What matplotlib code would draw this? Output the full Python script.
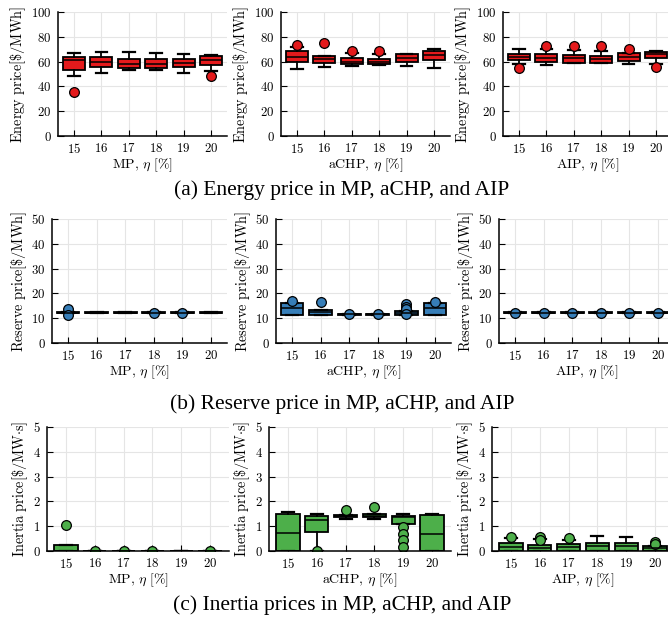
import matplotlib
matplotlib.use("Agg")
import matplotlib.pyplot as plt

plt.rcParams['mathtext.fontset'] = 'cm'

# ---------------- data ----------------
eta = [15, 16, 17, 18, 19, 20]

# Energy price [$ / MWh]
energy_mp_med = [61.0, 60.0, 58.0, 58.0, 58.5, 61.5]
energy_mp_q1 = [53.0, 55.5, 54.5, 54.5, 56.0, 57.5]
energy_mp_q3 = [64.0, 64.0, 62.5, 62.0, 62.0, 64.5]
energy_mp_lo = [48.0, 50.5, 53.0, 53.0, 51.0, 52.5]
energy_mp_hi = [67.0, 67.5, 67.5, 67.0, 66.0, 65.5]
energy_mp_fl = [[35.5], [], [], [], [], [48.5]]

energy_achp_med = [64.0, 62.0, 60.0, 60.0, 63.0, 65.0]
energy_achp_q1 = [59.7, 59.2, 57.8, 57.8, 59.5, 61.4]
energy_achp_q3 = [68.9, 64.9, 62.7, 62.4, 66.2, 68.9]
energy_achp_lo = [54.0, 56.0, 56.8, 57.3, 56.8, 54.6]
energy_achp_hi = [71.5, 64.9, 67.3, 66.5, 66.2, 70.5]
energy_achp_fl = [[73.5], [74.9], [68.9], [68.6], [], []]

energy_aip_med = [63.5, 63.2, 62.7, 62.2, 64.0, 65.9]
energy_aip_q1 = [61.0, 60.0, 59.2, 59.2, 60.5, 62.7]
energy_aip_q3 = [66.2, 66.2, 65.4, 64.9, 66.8, 68.1]
energy_aip_lo = [58.0, 57.3, 58.6, 58.6, 58.1, 57.8]
energy_aip_hi = [70.0, 70.0, 69.5, 68.9, 66.8, 68.6]
energy_aip_fl = [[54.6], [72.7], [72.7], [72.2], [70.3], [55.9]]

# Reserve price [$ / MWh]
reserve_mp_med = [12.1, 12.1, 12.1, 12.1, 12.1, 12.1]
reserve_mp_q1 = [11.9, 11.9, 11.9, 11.9, 11.9, 11.9]
reserve_mp_q3 = [12.3, 12.3, 12.3, 12.3, 12.3, 12.3]
reserve_mp_lo = [11.9, 11.9, 11.9, 11.9, 11.9, 11.9]
reserve_mp_hi = [12.3, 12.3, 12.3, 12.3, 12.3, 12.3]
reserve_mp_fl = [[13.7, 11.4], [], [], [12.2], [12.0], []]

reserve_achp_med = [14.1, 12.5, 11.5, 11.5, 12.1, 14.1]
reserve_achp_q1 = [11.4, 11.4, 11.3, 11.3, 11.2, 11.4]
reserve_achp_q3 = [16.0, 13.2, 11.7, 11.7, 12.8, 16.0]
reserve_achp_lo = [11.4, 11.4, 11.3, 11.3, 11.2, 11.4]
reserve_achp_hi = [16.0, 13.2, 11.7, 11.7, 12.8, 16.0]
reserve_achp_fl = [[16.8], [16.4], [11.6], [11.6], [15.7, 14.5, 13.7, 11.7], [16.5]]

reserve_aip_med = [12.1, 12.1, 12.1, 12.1, 12.1, 12.1]
reserve_aip_q1 = [11.9, 11.9, 11.9, 11.9, 11.9, 11.9]
reserve_aip_q3 = [12.3, 12.3, 12.3, 12.3, 12.3, 12.3]
reserve_aip_lo = [11.9, 11.9, 11.9, 11.9, 11.9, 11.9]
reserve_aip_hi = [12.3, 12.3, 12.3, 12.3, 12.3, 12.3]
reserve_aip_fl = [[12.1], [12.1], [12.1], [12.1], [12.1], [12.1]]

# Inertia price [$ / MW s]
inertia_mp_med = [0.0, 0.0, 0.0, 0.0, 0.0, 0.0]
inertia_mp_q1 = [0.0, 0.0, 0.0, 0.0, 0.0, 0.0]
inertia_mp_q3 = [0.24, 0.0, 0.0, 0.0, 0.0, 0.0]
inertia_mp_lo = [0.0, 0.0, 0.0, 0.0, 0.0, 0.0]
inertia_mp_hi = [0.24, 0.0, 0.0, 0.0, 0.0, 0.0]
inertia_mp_fl = [[1.04], [0.0], [0.0], [0.0], [], [0.0]]

inertia_achp_med = [0.71, 1.23, 1.40, 1.42, 1.36, 0.67]
inertia_achp_q1 = [0.0, 0.75, 1.36, 1.36, 1.08, 0.0]
inertia_achp_q3 = [1.50, 1.43, 1.46, 1.48, 1.43, 1.46]
inertia_achp_lo = [0.0, 0.0, 1.29, 1.28, 1.08, 0.0]
inertia_achp_hi = [1.58, 1.48, 1.46, 1.48, 1.48, 1.48]
inertia_achp_fl = [[], [0.0], [1.66], [1.78], [0.96, 0.69, 0.43, 0.18], []]

inertia_aip_med = [0.18, 0.13, 0.18, 0.20, 0.20, 0.11]
inertia_aip_q1 = [0.0, 0.0, 0.0, 0.0, 0.0, 0.0]
inertia_aip_q3 = [0.31, 0.24, 0.28, 0.34, 0.34, 0.22]
inertia_aip_lo = [0.0, 0.0, 0.0, 0.0, 0.0, 0.0]
inertia_aip_hi = [0.51, 0.47, 0.44, 0.60, 0.58, 0.22]
inertia_aip_fl = [[0.58], [0.58, 0.44], [0.54], [], [], [0.38, 0.27]]

markets = ['MP', 'aCHP', 'AIP']
row_titles = ['(a) Energy price in MP, aCHP, and AIP',
              '(b) Reserve price in MP, aCHP, and AIP',
              '(c) Inertia prices in MP, aCHP, and AIP']
row_ylabels = [r'$\mathrm{Energy\ price[\$/MWh]}$',
               r'$\mathrm{Reserve\ price[\$/MWh]}$',
               r'$\mathrm{Inertia\ price[\$/MW{\cdot}s]}$']
row_ylims = [100, 50, 5]
row_yticks = [[0, 20, 40, 60, 80, 100], [0, 10, 20, 30, 40, 50], [0, 1, 2, 3, 4, 5]]
row_colors = ['#e41a1c', '#377eb8', '#4daf4a']

data = [
    [(energy_mp_med, energy_mp_q1, energy_mp_q3, energy_mp_lo, energy_mp_hi, energy_mp_fl),
     (energy_achp_med, energy_achp_q1, energy_achp_q3, energy_achp_lo, energy_achp_hi, energy_achp_fl),
     (energy_aip_med, energy_aip_q1, energy_aip_q3, energy_aip_lo, energy_aip_hi, energy_aip_fl)],
    [(reserve_mp_med, reserve_mp_q1, reserve_mp_q3, reserve_mp_lo, reserve_mp_hi, reserve_mp_fl),
     (reserve_achp_med, reserve_achp_q1, reserve_achp_q3, reserve_achp_lo, reserve_achp_hi, reserve_achp_fl),
     (reserve_aip_med, reserve_aip_q1, reserve_aip_q3, reserve_aip_lo, reserve_aip_hi, reserve_aip_fl)],
    [(inertia_mp_med, inertia_mp_q1, inertia_mp_q3, inertia_mp_lo, inertia_mp_hi, inertia_mp_fl),
     (inertia_achp_med, inertia_achp_q1, inertia_achp_q3, inertia_achp_lo, inertia_achp_hi, inertia_achp_fl),
     (inertia_aip_med, inertia_aip_q1, inertia_aip_q3, inertia_aip_lo, inertia_aip_hi, inertia_aip_fl)],
]

# ---------------- layout (pixels) ----------------
W, H = 668, 625
fig = plt.figure(figsize=(W / 100, H / 100), dpi=100)

# per row: top px, bottom px, list of left px, px offset of first tick, tick spacing px
rows_geom = [
    (12, 136, [58, 281, 503], 16, 27.4),
    (219, 343, [52, 276, 499], 16, 28.6),
    (427, 551, [47, 269, 492], 19, 28.8),
]
caption_y = [190, 404, 605]

for r in range(3):
    top, bot, lefts, off, sp = rows_geom[r]
    width_px = off * 2 + sp * 5
    x0 = 15 - off / sp
    x1 = 20 + off / sp
    for c in range(3):
        ax = fig.add_axes([lefts[c] / W, (H - bot) / H, width_px / W, (bot - top) / H])
        med, q1, q3, lo, hi, fl = data[r][c]
        stats = []
        for i in range(len(eta)):
            stats.append(dict(med=med[i], q1=q1[i], q3=q3[i],
                              whislo=lo[i], whishi=hi[i], fliers=fl[i]))
        col = row_colors[r]
        ax.bxp(stats, positions=eta, widths=0.8, patch_artist=True,
               capwidths=0.42,
               boxprops=dict(facecolor=col, edgecolor='black', linewidth=1.3),
               medianprops=dict(color='black', linewidth=1.1),
               whiskerprops=dict(color='black', linewidth=1.3),
               capprops=dict(color='black', linewidth=1.6),
               flierprops=dict(marker='o', markerfacecolor=col,
                               markeredgecolor='black', markersize=7,
                               markeredgewidth=0.9),
               manage_ticks=False)
        ax.set_xlim(x0, x1)
        ax.set_ylim(0, row_ylims[r])
        ax.set_xticks(eta)
        ax.set_xticklabels([r'$%d$' % v for v in eta])
        ax.set_yticks(row_yticks[r])
        ax.set_yticklabels([r'$%g$' % v for v in row_yticks[r]])
        ax.tick_params(direction='in', length=4, width=0.8, labelsize=9.2,
                       pad=4.5, colors='black')
        ax.grid(True, color='#e5e5e5', linewidth=0.8)
        ax.set_axisbelow(True)
        for s in ['top', 'right']:
            ax.spines[s].set_visible(False)
        for s in ['left', 'bottom']:
            ax.spines[s].set_linewidth(1.1)
            ax.spines[s].set_color('black')
        ax.set_ylabel(row_ylabels[r], fontsize=10.3, labelpad=2)
        ax.set_xlabel(r'$\mathrm{%s},\,\eta\ [\%%]$' % markets[c], fontsize=10,
                      labelpad=0.5)
    fig.text(342 / W, 1 - caption_y[r] / H, row_titles[r], ha='center', va='center',
             fontsize=15.5, family='Liberation Serif')

fig.savefig('out.png', dpi=100)
